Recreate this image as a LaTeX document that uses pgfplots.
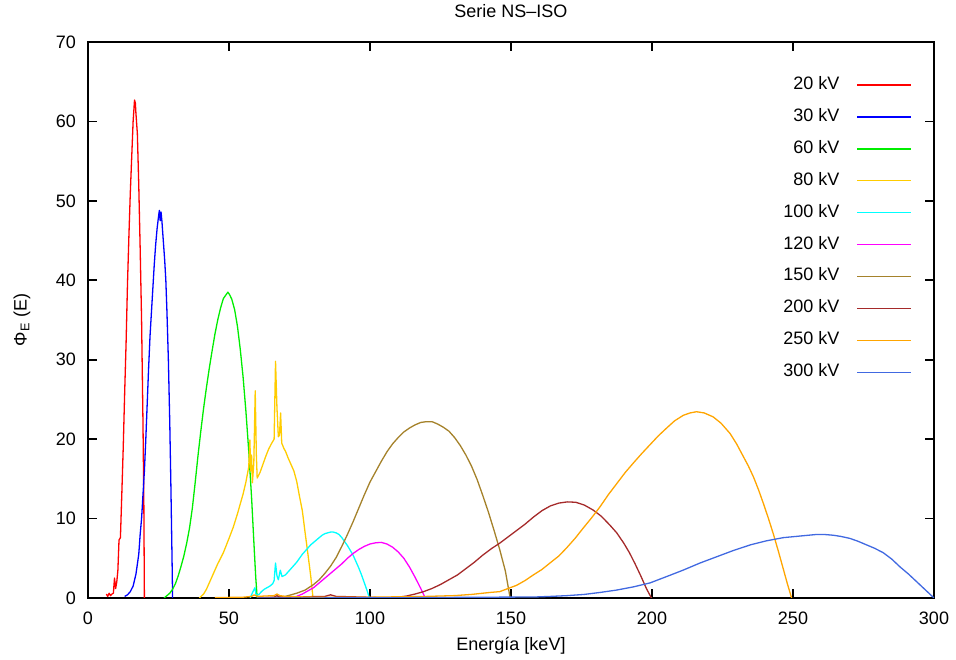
\documentclass[border=0pt]{standalone}
\usepackage{pgfplots}
\pgfplotsset{compat=1.18}
\usepackage{fontspec}
\setmainfont{Liberation Sans}
\definecolor{c20}{HTML}{FF0000}
\definecolor{c30}{HTML}{0000FF}
\definecolor{c60}{HTML}{00EE00}
\definecolor{c80}{HTML}{FFCC00}
\definecolor{c100}{HTML}{00FFFF}
\definecolor{c120}{HTML}{FF00FF}
\definecolor{c150}{HTML}{A5822B}
\definecolor{c200}{HTML}{A52A2A}
\definecolor{c250}{HTML}{FFA500}
\definecolor{c300}{HTML}{4169E1}
\begin{document}
\fontsize{18}{21}\selectfont
\begin{tikzpicture}
\path[use as bounding box] (-88pt,-62pt) rectangle (868pt,598pt);
\begin{axis}[
  at={(0pt,0pt)}, anchor=south west,
  scale only axis, width=846pt, height=556pt,
  xmin=0, xmax=300, ymin=0, ymax=70,
  xtick={0,50,...,300}, ytick={0,10,...,70},
  minor tick num=0,
  tick align=inside,
  major tick length=9pt,
  every tick/.style={black, line width=1.8pt},
  axis line style={line width=2.5pt},
  /pgf/number format/assume math mode=true,
  tick label style={font=\fontsize{18}{21}\selectfont},
  yticklabel style={inner sep=0pt, xshift=-12pt},
  xticklabel style={inner sep=0pt, yshift=-14pt},
  title={Serie NS--ISO},
  title style={at={(rel axis cs:0.5,1)}, anchor=center, yshift=25pt, font=\fontsize{18}{21}\selectfont},
  xlabel={Energía [keV]},
  xlabel style={at={(rel axis cs:0.5,0)}, anchor=center, yshift=-48pt, font=\fontsize{18}{21}\selectfont},
  ylabel={Φ\textsubscript{E} (E)},
  ylabel style={at={(rel axis cs:0,0.5)}, anchor=center, yshift=66pt, font=\fontsize{18}{21}\selectfont},
  legend plot pos=right,
  legend cell align=right,
  legend image code/.code={\draw[#1, line width=1.3pt] (0pt,0pt) -- (54pt,0pt);},
  legend style={draw=none, fill=none, at={(rel axis cs:0.974,0.94)}, anchor=north east,
    inner sep=0pt, row sep=12.9pt, font=\fontsize{18}{21}\selectfont,
    nodes={inner sep=2pt, text height=12pt, text depth=3pt},
    /tikz/every odd column/.append style={column sep=15pt}},
  every axis plot/.append style={line width=1.3pt, line join=round},
]
\addplot[c20] coordinates {
(6.5,0.5)(7.0,0.2)(7.5,0.6)(8.0,0.3)(8.5,0.5)(9.0,0.6)(9.4,2.5)(9.8,1.2)(10.2,2.0)(10.6,3.5)
(11.0,7.3)(11.5,7.6)(12.0,13.2)(12.5,19)(13.0,25.8)(13.5,32)(14.0,39.5)(14.5,45.5)(15.0,51)
(15.5,55.5)(16.0,60)(16.5,62.7)(16.8,62.3)(17.0,61)(17.5,58.5)(18.0,52)(18.5,44)(19.0,35)
(19.5,22)(19.8,12)(20.0,0)};
\addlegendentry{20 kV}
\addplot[c30] coordinates {
(13,0.2)(14,0.4)(15,0.8)(16,1.5)(17,3)(18,5.5)(18.5,8)(19,10)(19.5,13)(20,16)(20.5,20)
(21,24.5)(21.5,29)(22,33)(22.5,36)(23,39)(23.5,42)(24,44.5)(24.5,46.5)(25,48)(25.3,48.8)
(25.6,47.5)(25.9,48.6)(26.2,47.5)(26.7,45)(27.2,42.5)(27.6,40)(28,36)(28.5,30)(29,22)
(29.4,14)(29.8,5)(30,0)};
\addlegendentry{30 kV}
\addplot[c60] coordinates {
(27,0)(28,0.3)(29,0.6)(30,1.1)(31,1.8)(32,2.8)(33,4.0)(34,5.3)(35,6.9)(36,8.8)(37,11.3)
(38,14.5)(39,17.9)(40,21.0)(41,23.9)(42,26.5)(43,28.9)(44,31.1)(45,33.2)(46,35.0)(47,36.5)
(48,37.7)(49,38.2)(49.6,38.5)(50.2,38.2)(51,37.6)(52,36.3)(53,34.2)(54,31.3)(55,27.8)
(56,23.5)(57,18.5)(58,12.7)(59,5.8)(59.5,2.5)(60,0)};
\addlegendentry{60 kV}
\addplot[c80] coordinates {
(39.5,0)(41,0.5)(42,1.1)(43,1.9)(44,2.7)(45,3.5)(46,4.3)(47,5.0)(48,5.7)(50,7.5)(51.5,8.9)
(53,10.6)(55,13.1)(56,14.6)(57,16.5)(57.4,19.9)(57.7,16)(58,18)(58.3,14.5)(58.8,17)
(59.3,26.1)(59.7,18)(60,15.1)(61,15.8)(62,16.8)(63,17.8)(64,18.7)(65,19.4)(66,20)
(66.5,29.8)(67,24)(67.5,20.3)(67.9,20.5)(68.3,23.3)(68.7,19.5)(69.5,18.8)(70,18.5)
(71,17.6)(72,16.8)(73,16)(74,14.7)(75,12.8)(76,11)(77,8.2)(78,5.5)(79,2.7)(79.8,0)};
\addlegendentry{80 kV}
\addplot[c100] coordinates {
(57.5,0)(58.5,0.8)(59.2,1.3)(59.6,0.4)(60.5,0.4)(61.5,0.8)(62.5,1.1)(63.5,1.3)(64.5,1.5)
(65.5,1.8)(66,2.2)(66.5,4.4)(67,2.8)(67.5,2.3)(68.2,3.5)(68.8,2.7)(70,2.9)(71,3.3)(72,3.7)
(73,4.1)(74,4.5)(75,5.0)(76,5.5)(77,5.9)(78,6.3)(79,6.7)(80,7.0)(81,7.3)(82,7.6)(83,7.9)
(84,8.1)(85,8.2)(86,8.3)(87,8.3)(88,8.2)(89,8.0)(90,7.6)(91,7.1)(92,6.6)(93,6.0)(94,5.4)
(95,4.6)(96,3.8)(97,2.9)(98,1.9)(99,0.9)(99.8,0)};
\addlegendentry{100 kV}
\addplot[c120] coordinates {
(72,0)(74,0.2)(76,0.5)(78,0.9)(80,1.3)(82,1.9)(84,2.5)(86,3.1)(88,3.7)(90,4.3)(92,5.0)
(94,5.6)(96,6.1)(98,6.5)(100,6.8)(102,6.95)(104,7.0)(106,6.8)(108,6.4)(110,5.8)(112,5.0)
(114,3.9)(116,2.6)(118,1.2)(119.6,0)};
\addlegendentry{120 kV}
\addplot[c150] coordinates {
(60,0)(67,0.1)(70,0.2)(74,0.6)(77,1.0)(80,1.7)(82,2.3)(84,3.1)(86,4.0)(88,5.1)(90,6.5)
(92,8.0)(94,9.6)(96,11.3)(98,13.0)(100,14.6)(102,15.9)(104,17.2)(106,18.4)(108,19.4)
(110,20.2)(112,20.9)(114,21.4)(116,21.8)(118,22.1)(120,22.2)(122,22.2)(124,21.9)(126,21.5)
(128,21.0)(130,20.2)(132,19.2)(134,18.0)(136,16.6)(138,14.9)(140,12.9)(142,10.8)(144,8.5)
(146,6.1)(148,3.4)(149.7,0)};
\addlegendentry{150 kV}
\addplot[c200] coordinates {
(60,0)(66,0.1)(67,0.3)(68,0.1)(84,0.2)(86,0.4)(88,0.2)(105,0.05)(110,0.1)(113,0.25)
(116,0.5)(119,0.8)(122,1.2)(125,1.7)(128,2.3)(131,2.9)(134,3.7)(137,4.5)(140,5.4)(143,6.2)
(146,6.9)(149,7.7)(152,8.5)(155,9.3)(158,10.2)(161,11.0)(164,11.6)(167,11.95)(170,12.1)
(173,12.05)(176,11.7)(179,11.1)(182,10.3)(185,9.2)(187.5,8.2)(190,6.9)(192,5.7)(194,4.3)
(196,2.8)(198,1.2)(199.8,0)};
\addlegendentry{200 kV}
\addplot[c250] coordinates {
(45,0.05)(55,0.1)(58,0.2)(59,0.4)(60,0.2)(66,0.3)(67,0.5)(68,0.3)(70,0.2)(80,0.1)(100,0.1)
(120,0.2)(130,0.3)(136,0.45)(142.6,0.7)(146,0.8)(149,1.2)(152,1.6)(155,2.2)(157.9,2.9)
(161,3.6)(163.8,4.4)(167,5.3)(169.7,6.3)(172.7,7.5)(175.6,8.8)(178.6,10.1)(181.6,11.5)
(184.5,13.0)(187.5,14.4)(190.5,15.8)(193.4,17)(196.4,18.2)(199.3,19.3)(202.2,20.4)
(205.2,21.4)(208,22.3)(211.1,23)(213.5,23.3)(215.8,23.45)(218.5,23.3)(221.7,22.8)
(224.5,22.0)(227.7,20.7)(230,19.4)(232.4,17.8)(234.2,16.6)(235.9,15.3)(237.7,13.7)
(239.5,11.9)(241.3,10.0)(243,8.1)(244.8,5.9)(246.6,3.6)(248,1.8)(249.5,0)};
\addlegendentry{250 kV}
\addplot[c300] coordinates {
(60,0)(100,0.02)(120,0.05)(140,0.1)(158,0.12)(164,0.2)(170,0.3)(176,0.45)(181.6,0.7)
(187.5,1.0)(193.4,1.4)(199.3,1.9)(205.2,2.7)(211,3.5)(217,4.4)(223,5.2)(229,6.0)(235,6.7)
(240.6,7.2)(246.6,7.6)(252.5,7.8)(258.4,8.0)(261,8.0)(264.3,7.9)(267,7.75)(270.2,7.5)
(273,7.15)(276,6.7)(279,6.25)(282,5.7)(285,4.9)(288,3.9)(291,3.0)(294,2.0)(297,1.0)(300,0)};
\addlegendentry{300 kV}
\end{axis}
\end{tikzpicture}
\end{document}
